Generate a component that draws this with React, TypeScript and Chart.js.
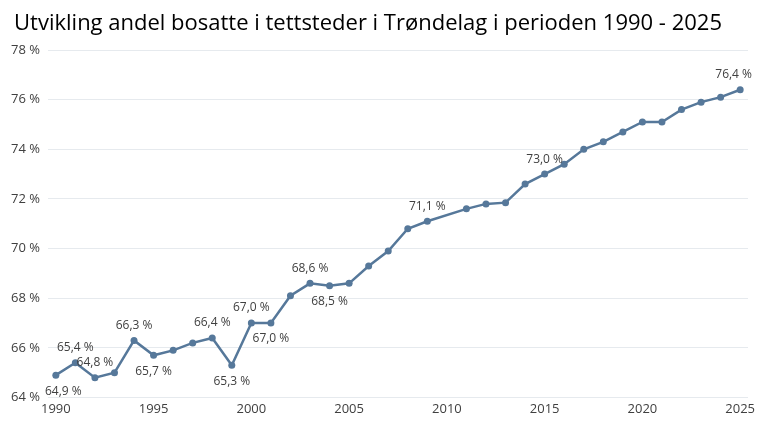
import { useEffect, useRef } from 'react'
import Chart from 'chart.js/auto'

const TITLE = 'Utvikling andel bosatte i tettsteder i Trøndelag i perioden 1990 - 2025'
const years = [1990, 1991, 1992, 1993, 1994, 1995, 1996, 1997, 1998, 1999, 2000, 2001, 2002, 2003, 2004, 2005, 2006, 2007, 2008, 2009, 2011, 2012, 2013, 2014, 2015, 2016, 2017, 2018, 2019, 2020, 2021, 2022, 2023, 2024, 2025]
const shares = [64.9, 65.4, 64.8, 65.0, 66.3, 65.7, 65.9, 66.2, 66.4, 65.3, 67.0, 67.0, 68.1, 68.6, 68.5, 68.6, 69.3, 69.9, 70.8, 71.1, 71.6, 71.8, 71.85, 72.6, 73.0, 73.4, 74.0, 74.3, 74.7, 75.1, 75.1, 75.6, 75.9, 76.1, 76.4]
// where a value label is shown: 'a' above, 'b' below, '' none
const labelPos = ['b', 'a', 'a', '', 'a', 'b', '', '', 'a', 'b', 'a', 'b', '', 'a', 'b', '', '', '', '', 'a', '', '', '', '', 'a', '', '', '', '', '', '', '', '', '', 'a']
const xTicks = [1990, 1995, 2000, 2005, 2010, 2015, 2020, 2025]

const LINE = '#56789a'
const TEXT = '#404040'
const FONT = 'Open Sans'

const fmt = (v: number) => v.toFixed(1).replace('.', ',') + ' %'

const labelsPlugin = {
  id: 'valueLabels',
  afterDatasetsDraw(chart: Chart) {
    const { ctx, chartArea } = chart
    const meta = chart.getDatasetMeta(0)
    ctx.save()
    ctx.font = `12px "${FONT}"`
    ctx.fillStyle = TEXT
    ctx.textAlign = 'center'
    ctx.textBaseline = 'middle'
    meta.data.forEach((pt: any, i: number) => {
      const pos = labelPos[i]
      if (!pos) return
      const text = fmt(shares[i])
      const half = ctx.measureText(text).width / 2
      // keep labels inside the plot, like the spreadsheet does
      const x = Math.min(Math.max(pt.x, chartArea.left - 3 + half), chartArea.right + 4 - half)
      ctx.fillText(text, x, pos === 'a' ? pt.y - 15 : pt.y + 16)
    })
    ctx.restore()
  },
}

const titlePlugin = {
  id: 'customTitle',
  afterDraw(chart: Chart) {
    const { ctx } = chart
    ctx.save()
    ctx.font = `22px "${FONT}"`
    ctx.fillStyle = '#000'
    ctx.textAlign = 'center'
    ctx.textBaseline = 'alphabetic'
    ctx.fillText(TITLE, 368, 30)
    ctx.restore()
  },
}

export default function App() {
  const ref = useRef<HTMLCanvasElement>(null)
  const chart = useRef<Chart | null>(null)
  useEffect(() => {
    document.body.style.margin = '0'
    if (!ref.current) return
    chart.current?.destroy()
    chart.current = new Chart(ref.current.getContext('2d')!, {
      type: 'line',
      data: {
        datasets: [{
          data: years.map((y, i) => ({ x: y, y: shares[i] })),
          borderColor: LINE, backgroundColor: LINE, borderWidth: 2.5,
          pointRadius: 3.5, pointBackgroundColor: LINE, pointBorderWidth: 0,
          tension: 0,
        }],
      },
      options: {
        responsive: false, animation: false,
        layout: { padding: { top: 50, right: 19, left: 0, bottom: 0 } },
        plugins: { legend: { display: false }, tooltip: { enabled: false }, title: { display: false } },
        scales: {
          x: {
            type: 'linear', min: 1989.6, max: 2025.4,
            afterBuildTicks: (s: any) => { s.ticks = xTicks.map(v => ({ value: v })) },
            afterFit: (s: any) => { s.height = 35.5 },
            grid: { display: false, drawTicks: false },
            border: { display: false },
            ticks: { color: TEXT, font: { family: FONT, size: 13 }, padding: 4, maxRotation: 0, callback: (v: any) => String(v) },
          },
          y: {
            min: 64, max: 78,
            afterFit: (s: any) => { s.width = 48 },
            grid: { color: '#e6eaee', lineWidth: 1, drawTicks: false },
            border: { display: false },
            ticks: { stepSize: 2, color: TEXT, font: { family: FONT, size: 13 }, padding: 8, callback: (v: any) => `${v} %` },
          },
        },
      },
      plugins: [labelsPlugin, titlePlugin],
    })
    return () => chart.current?.destroy()
  }, [])
  return <canvas ref={ref} width={767} height={433} style={{ display: 'block' }} />
}
